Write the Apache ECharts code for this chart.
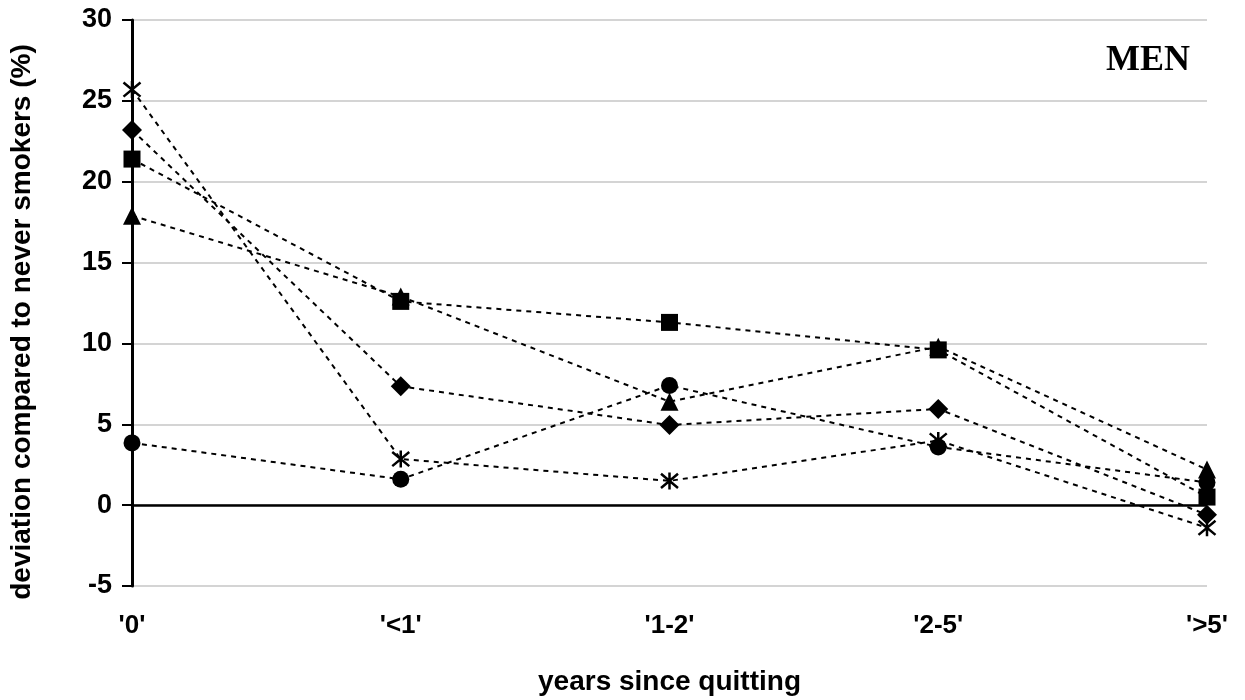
<!DOCTYPE html>
<html>
<head>
<meta charset="utf-8">
<script src="https://cdn.jsdelivr.net/npm/echarts@6/dist/echarts.min.js"></script>
<style>
html,body{margin:0;padding:0;background:#fff;}
#chart{width:1245px;height:700px;}
</style>
</head>
<body>
<div id="chart"></div>
<script>
var categories = ["'0'", "'<1'", "'1-2'", "'2-5'", "'>5'"];
var asteriskSeries = [25.7, 2.85, 1.5, 4.0, -1.4];
var diamondSeries = [23.2, 7.35, 4.95, 5.95, -0.6];
var squareSeries = [21.4, 12.6, 11.3, 9.6, 0.5];
var triangleSeries = [17.9, 12.9, 6.4, 9.8, 2.2];
var circleSeries = [3.85, 1.6, 7.4, 3.6, 1.4];
var yTicks = [-5, 0, 5, 10, 15, 20, 25, 30];

var chart = echarts.init(document.getElementById('chart'), null, {renderer: 'canvas'});
var font = 'Liberation Sans, Arial, sans-serif';
var lineStyle = {color: '#000', width: 2, type: [5, 5]};
function mk(name, data, symbol, size, extra) {
  return Object.assign({
    name: name, type: 'line', data: data, symbol: symbol, symbolSize: size,
    showSymbol: true, lineStyle: lineStyle,
    itemStyle: {color: '#000', opacity: 1}, z: 3, animation: false
  }, extra || {});
}
var option = {
  backgroundColor: '#fff',
  animation: false,
  grid: {left: 132, right: 38, top: 20, bottom: 114, containLabel: false, outerBoundsMode: 'none'},
  title: {
    text: 'MEN', right: 50, top: 38,
    textStyle: {fontFamily: 'Liberation Serif, Times New Roman, serif', fontWeight: 'bold', fontSize: 36, color: '#000'}
  },
  graphic: [{
    type: 'text', x: 22, y: 322, rotation: Math.PI / 2,
    style: {text: 'deviation compared to never smokers (%)', fill: '#000',
      font: 'bold 28px Liberation Sans, Arial, sans-serif', align: 'center', verticalAlign: 'middle'}
  }],
  xAxis: {
    type: 'category', data: categories, boundaryGap: false,
    axisLine: {show: false}, axisTick: {show: false},
    axisLabel: {margin: 27, fontFamily: font, fontWeight: 'bold', fontSize: 26, color: '#000'},
    name: 'years since quitting', nameLocation: 'middle', nameGap: 82,
    nameTextStyle: {fontFamily: font, fontWeight: 'bold', fontSize: 28, color: '#000'},
    splitLine: {show: false}
  },
  yAxis: {
    type: 'value', min: -5, max: 30, interval: 5,
    axisLine: {show: true, onZero: false, lineStyle: {color: '#000', width: 3}},
    axisTick: {show: true, length: 10, lineStyle: {color: '#000', width: 2}},
    axisLabel: {margin: 20, fontFamily: font, fontWeight: 'bold', fontSize: 27, color: '#000',
      formatter: function (v) { return yTicks.indexOf(v) >= 0 ? String(v) : ''; }},
    splitLine: {show: true, lineStyle: {color: '#d4d4d4', width: 2}}
  },
  series: [
    mk('circle', circleSeries, 'circle', 17, {
      markLine: {silent: true, symbol: 'none', label: {show: false},
        lineStyle: {color: '#000', width: 2.5, type: 'solid'}, data: [{yAxis: 0}], z: 2}
    }),
    mk('triangle', triangleSeries, 'triangle', 18),
    mk('diamond', diamondSeries, 'diamond', 20),
    mk('square', squareSeries, 'rect', 17),
    mk('asterisk', asteriskSeries, 'path://M0,0L10,10M10,0L0,10M5,-1L5,11', 17, {
      itemStyle: {color: 'none', borderColor: '#000', borderWidth: 2.5, opacity: 1}
    })
  ]
};
chart.setOption(option);
</script>
</body>
</html>
